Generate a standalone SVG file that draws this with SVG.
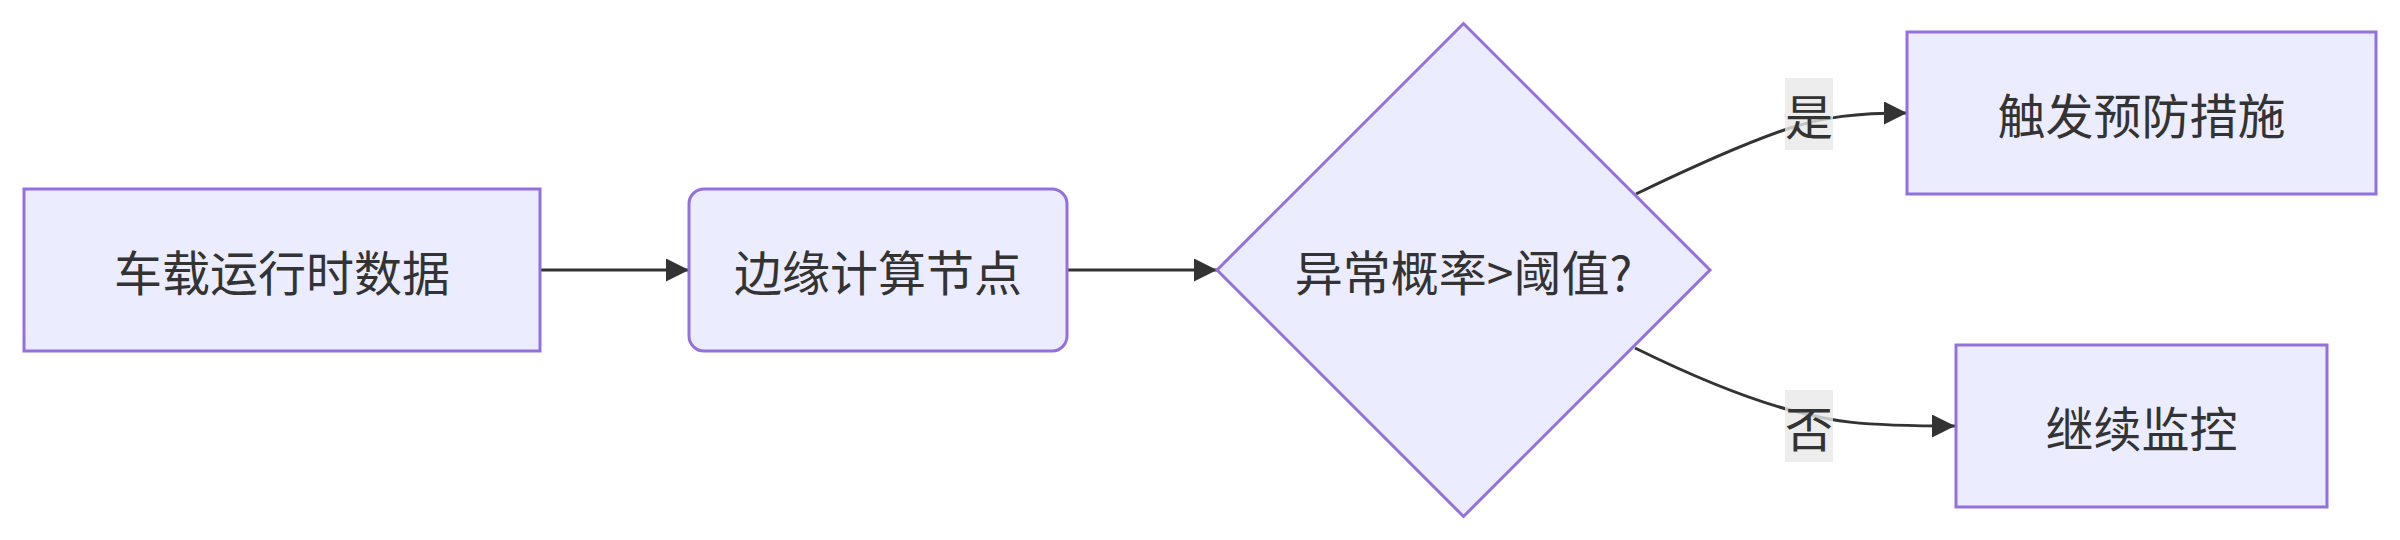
<svg xmlns="http://www.w3.org/2000/svg" width="2400" height="540" viewBox="0 0 2400 540">
<style>
.node rect, .node polygon { fill: #ECECFF; stroke: #9370DB; stroke-width: 3; }
.label { font-family: "Noto Sans CJK SC", "Liberation Sans", sans-serif; font-size: 48px; fill: #333333; text-anchor: middle; dominant-baseline: central; }
.edge { fill: none; stroke: #333333; stroke-width: 3; }
.elbg { fill: #E8E8E8; fill-opacity: 0.8; }
</style>
<defs>
<marker id="arrow" viewBox="0 0 10 10" refX="10" refY="5" markerUnits="userSpaceOnUse" markerWidth="23" markerHeight="23" orient="auto">
<path d="M0,0 L10,5 L0,10 z" fill="#333333"/>
</marker>
</defs>
<rect width="2400" height="540" fill="#FFFFFF"/>
<g id="edges">
<path class="edge" d="M540,270 L689,270" marker-end="url(#arrow)"/>
<path class="edge" d="M1067,270 L1217,270" marker-end="url(#arrow)"/>
<path class="edge" d="M1636,194 C1690,168 1745,143 1790,128 C1825,117 1855,113 1907,113" marker-end="url(#arrow)"/>
<path class="edge" d="M1635,348 C1690,375 1745,398 1790,410 C1830,421 1855,426 1955,426" marker-end="url(#arrow)"/>
</g>
<g id="edge-label-yes">
<rect class="elbg" x="1785" y="78" width="48" height="72"/>
<text class="label" x="1809" y="114">是</text>
</g>
<g id="edge-label-no">
<rect class="elbg" x="1785" y="390" width="48" height="72"/>
<text class="label" x="1809" y="426">否</text>
</g>
<g id="node-data" class="node">
<rect x="24" y="189" width="516" height="162"/>
<text class="label" x="282" y="270">车载运行时数据</text>
</g>
<g id="node-edge" class="node">
<rect x="689" y="189" width="378" height="162" rx="15" ry="15"/>
<text class="label" x="878" y="270">边缘计算节点</text>
</g>
<g id="node-decision" class="node">
<polygon points="1217,270 1463.5,23.5 1710,270 1463.5,516.5"/>
<text class="label" x="1463.5" y="270">异常概率&gt;阈值?</text>
</g>
<g id="node-action" class="node">
<rect x="1907" y="32" width="469" height="162"/>
<text class="label" x="2141.5" y="113">触发预防措施</text>
</g>
<g id="node-monitor" class="node">
<rect x="1956" y="345" width="371" height="162"/>
<text class="label" x="2141.5" y="426">继续监控</text>
</g>
</svg>
